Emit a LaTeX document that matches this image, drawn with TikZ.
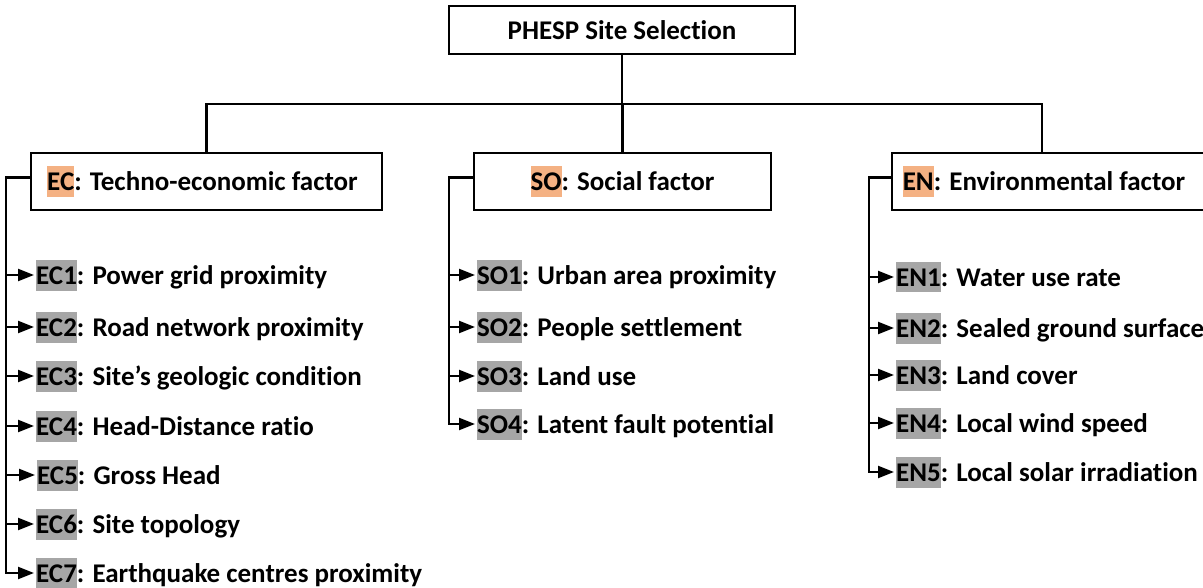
\documentclass[tikz,border=0pt]{standalone}
\usepackage{fontspec}
\setmainfont[Ligatures=NoCommon]{Carlito}
\usetikzlibrary{positioning, arrows.meta}

\definecolor{catorange}{HTML}{F4B183}
\definecolor{keygray}{HTML}{A6A6A6}
\newcommand{\keystrut}{\rule[-6pt]{0pt}{31pt}}
\newcommand{\catkey}[1]{{\setlength{\fboxsep}{0pt}\colorbox{catorange}{\keystrut #1}}}
\newcommand{\subkey}[1]{{\setlength{\fboxsep}{0pt}\colorbox{keygray}{\keystrut #1}}}

\begin{document}
\begin{tikzpicture}[
        x=1pt, y=-1pt,
        font=\fontsize{27}{32}\selectfont\bfseries,
        box/.style={draw, rectangle, line width=2.2pt, align=center, minimum height=57pt},
        item/.style={anchor=west, inner sep=2pt},
        link/.style={line width=2.2pt},
        arrow/.style={-{Triangle[length=16pt,width=12pt]}, line width=2.2pt}
    ]
    \useasboundingbox (0,0) rectangle (1203,588);
    % Nodes
    \node[box, minimum width=346pt, minimum height=48pt] (top) at (622,30) {PHESP Site Selection};
    \node[box, minimum width=351pt] (ec) at (206.5,181.5) {\catkey{EC}: Techno-economic factor\hspace{8pt}};
    \node[box, minimum width=297pt] (so) at (622.5,181.5) {\catkey{SO}: Social factor};
    \node[box, minimum width=318pt] (en) at (1051,181.5) {\catkey{EN}: Environmental factor\hspace{14pt}};

    \node[item] (ec1) at (34,275) {\subkey{EC1}: Power grid proximity};
    \node[item] (ec2) at (34,327) {\subkey{EC2}: Road network proximity};
    \node[item] (ec3) at (34,376) {\subkey{EC3}: Site’s geologic condition};
    \node[item] (ec4) at (34,426) {\subkey{EC4}: Head-Distance ratio};
    \node[item] (ec5) at (35,475) {\subkey{EC5}: Gross Head};
    \node[item] (ec6) at (34,524) {\subkey{EC6}: Site topology};
    \node[item] (ec7) at (34,573) {\subkey{EC7}: Earthquake centres proximity};

    \node[item] (so1) at (475,275) {\subkey{SO1}: Urban area proximity};
    \node[item] (so2) at (475,327) {\subkey{SO2}: People settlement};
    \node[item] (so3) at (475,376) {\subkey{SO3}: Land use};
    \node[item] (so4) at (475,424) {\subkey{SO4}: Latent fault potential};

    \node[item] (en1) at (894,277) {\subkey{EN1}: Water use rate};
    \node[item] (en2) at (894,328) {\subkey{EN2}: Sealed ground surface};
    \node[item] (en3) at (894,375) {\subkey{EN3}: Land cover};
    \node[item] (en4) at (894,423) {\subkey{EN4}: Local wind speed};
    \node[item] (en5) at (894,472) {\subkey{EN5}: Local solar irradiation};

    % Tree
    \draw[link] (top.south) -- ++(0,49) coordinate (bus);
    \draw[link] (ec.north) |- (bus) -| (so.north);
    \draw[link] (bus) -| ([xshift=-9pt]en.north);

    % Arrows
    \foreach \i in {1,...,7}
        \draw[arrow] ([yshift=4pt]ec.west) -- ++(-24,0) |- (ec\i.west);
    \foreach \i in {1,...,4}
        \draw[arrow] ([yshift=4pt]so.west) -- ++(-24,0) |- (so\i.west);
    \foreach \i in {1,...,5}
        \draw[arrow] ([yshift=4pt]en.west) -- ++(-22,0) |- (en\i.west);
\end{tikzpicture}
\end{document}
